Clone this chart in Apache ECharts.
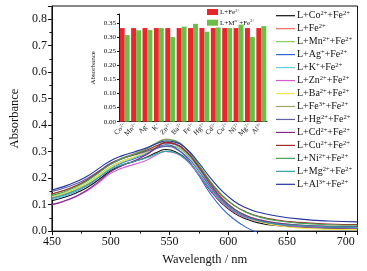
<!DOCTYPE html>
<html>
<head>
<meta charset="utf-8">
<script src="https://cdn.jsdelivr.net/npm/echarts@6/dist/echarts.min.js"></script>
<style>
  html, body { margin: 0; padding: 0; background: #fff; }
  #chart { width: 367px; height: 271px; }
</style>
</head>
<body>
<div id="chart"></div>
<script>
// wavelengths (nm)
const wavelengths = [450, 460, 470, 480, 490, 500, 510, 520, 530, 540, 547, 555, 565, 575, 585, 595, 605, 615, 625, 640, 660, 685, 710];

// absorbance
const coFe  = [.115, .127, .143, .165, .195, .228, .249, .263, .278, .299, .308, .300, .268, .212, .152, .103, .068, .046, .032, .021, .015, .011, .009];
const fe    = [.125, .138, .156, .178, .209, .241, .263, .279, .297, .321, .333, .326, .292, .234, .170, .116, .079, .055, .040, .027, .019, .014, .012];
const mnFe  = [.130, .143, .160, .182, .212, .243, .264, .279, .295, .316, .325, .319, .288, .233, .171, .118, .081, .057, .042, .029, .021, .016, .014];
const agFe  = [.120, .133, .150, .172, .203, .236, .258, .273, .290, .315, .326, .315, .275, .210, .140, .085, .045, .015, -.005, -.03, -.05, -.07, -.08];
const kFe   = [.120, .133, .151, .174, .205, .238, .261, .277, .296, .321, .333, .327, .294, .237, .173, .119, .081, .057, .042, .028, .020, .015, .013];
const znFe  = [.100, .112, .129, .152, .183, .218, .238, .252, .267, .290, .301, .295, .265, .212, .154, .106, .072, .050, .036, .024, .017, .013, .011];
const baFe  = [.130, .142, .158, .180, .210, .241, .263, .280, .298, .324, .338, .336, .308, .252, .186, .127, .084, .055, .037, .022, .012, .007, .005];
const fe3Fe = [.140, .153, .171, .194, .225, .256, .277, .293, .311, .336, .348, .342, .307, .247, .180, .124, .085, .060, .045, .031, .023, .018, .016];
const hgFe  = [.150, .162, .178, .199, .227, .256, .274, .287, .301, .314, .320, .312, .280, .226, .165, .113, .077, .054, .040, .027, .019, .014, .012];
const cdFe  = [.100, .113, .131, .155, .188, .224, .248, .266, .287, .319, .335, .330, .298, .240, .175, .121, .083, .059, .044, .031, .023, .018, .016];
const cuFe  = [.140, .153, .170, .193, .223, .253, .274, .289, .305, .324, .333, .328, .297, .244, .184, .133, .097, .073, .057, .043, .033, .027, .025];
const niFe  = [.135, .148, .166, .189, .220, .252, .274, .290, .309, .334, .345, .340, .307, .250, .187, .135, .097, .071, .055, .040, .030, .024, .022];
const mgFe  = [.125, .137, .153, .174, .203, .233, .251, .263, .276, .293, .301, .296, .267, .216, .158, .110, .076, .054, .040, .028, .021, .016, .014];
const alFe  = [.155, .168, .185, .207, .237, .266, .285, .299, .314, .332, .340, .336, .308, .258, .200, .150, .113, .088, .072, .058, .046, .038, .035];

const curves = [coFe, fe, mnFe, agFe, kFe, znFe, baFe, fe3Fe, hgFe, cdFe, cuFe, niFe, mgFe, alFe];
const curveNames = ['L+Co2++Fe2+', 'L+Fe2+', 'L+Mn2++Fe2+', 'L+Ag++Fe2+', 'L+K++Fe2+', 'L+Zn2++Fe2+', 'L+Ba2++Fe2+',
  'L+Fe3++Fe2+', 'L+Hg2++Fe2+', 'L+Cd2++Fe2+', 'L+Cu2++Fe2+', 'L+Ni2++Fe2+', 'L+Mg2++Fe2+', 'L+Al3++Fe2+'];
const curveLabels = ['L+Co{s|2+}+Fe{s|2+}', 'L+Fe{s|2+}', 'L+Mn{s|2+}+Fe{s|2+}', 'L+Ag{s|+}+Fe{s|2+}', 'L+K{s|+}+Fe{s|2+}',
  'L+Zn{s|2+}+Fe{s|2+}', 'L+Ba{s|2+}+Fe{s|2+}', 'L+Fe{s|3+}+Fe{s|2+}', 'L+Hg{s|2+}+Fe{s|2+}', 'L+Cd{s|2+}+Fe{s|2+}',
  'L+Cu{s|2+}+Fe{s|2+}', 'L+Ni{s|2+}+Fe{s|2+}', 'L+Mg{s|2+}+Fe{s|2+}', 'L+Al{s|3+}+Fe{s|2+}'];
const curveColors = ['#111111', '#f06a62', '#86cf5e', '#3563d1', '#66cbe3', '#d45bd2', '#ece64a', '#a3a36a',
  '#5f5fa6', '#86288a', '#a52a2a', '#45a558', '#34a3a3', '#2433a3'];

// inset bar chart
const ions = ['Co{s|2+}', 'Mn{s|2+}', 'Ag{s|+}', 'K{s|+}', 'Zn{s|2+}', 'Ba{s|2+}', 'Fe{s|3+}', 'Hg{s|2+}', 'Cd{s|2+}', 'Cu{s|2+}', 'Ni{s|2+}', 'Mg{s|2+}', 'Al{s|3+}'];
const onlyFe = [.333, .333, .333, .333, .333, .333, .333, .333, .333, .333, .333, .333, .333];
const withM  = [.308, .325, .326, .333, .301, .338, .348, .320, .335, .333, .345, .301, .340];

const serif = "'Liberation Serif', 'DejaVu Serif', serif";
// small raised text for ion charges
const sup = (size, line) => ({ fontSize: size, lineHeight: line, verticalAlign: 'top', fontFamily: serif, color: '#111' });

const series = curves.map((vals, i) => ({
  name: curveNames[i],
  type: 'line',
  smooth: true,
  symbol: 'none',
  clip: true,
  lineStyle: { width: 1.1, color: curveColors[i] },
  itemStyle: { color: curveColors[i] },
  data: wavelengths.map((w, j) => [w, vals[j]])
}));
series.push({
  name: 'L+Fe', type: 'bar', xAxisIndex: 1, yAxisIndex: 1,
  barGap: 0, barCategoryGap: '13%',
  itemStyle: { color: '#e8262b' }, data: onlyFe
});
series.push({
  name: 'L+M', type: 'bar', xAxisIndex: 1, yAxisIndex: 1,
  barGap: 0, barCategoryGap: '13%',
  itemStyle: { color: '#6cbf45' }, data: withM
});

const chart = echarts.init(document.getElementById('chart'));
chart.setOption({
  animation: false,
  backgroundColor: '#fff',
  grid: [
    { left: 42, right: 9.5, top: 6, bottom: 34.7, show: true, borderColor: '#111', borderWidth: 1, backgroundColor: 'transparent' },
    { left: 119, width: 148, top: 14, bottom: 149.3 }
  ],
  legend: [
    {
      data: curveNames, z: 10, padding: 0,
      orient: 'vertical', left: 276, top: 10.2,
      itemWidth: 19, itemHeight: 10, itemGap: 1.97,
      icon: 'path://M0,4.4H19V5.6H0Z',
      formatter: (name) => curveLabels[curveNames.indexOf(name)],
      textStyle: { fontSize: 10, lineHeight: 11, fontFamily: serif, color: '#111', padding: [0, 0, 0, -3], rich: { s: sup(6.5, 7) } }
    },
    {
      data: ['L+Fe', 'L+M'], z: 10, padding: 0,
      orient: 'vertical', left: 207, top: 8,
      itemWidth: 11, itemHeight: 6, itemGap: 2.7,
      icon: 'rect',
      formatter: (name) => name === 'L+Fe' ? 'L+Fe{s|2+}' : 'L+M{s|n+}+Fe{s|2+}',
      textStyle: { fontSize: 7, lineHeight: 8, fontFamily: serif, color: '#111', padding: [0, 0, 0, -3], rich: { s: sup(4.5, 5) } }
    }
  ],
  xAxis: [
    {
      type: 'value', min: 450, max: 710, interval: 50,
      name: 'Wavelength / nm', nameLocation: 'middle', nameGap: 16,
      nameTextStyle: { fontSize: 12.5, fontFamily: serif, color: '#111' },
      axisLine: { lineStyle: { color: '#111' } },
      axisTick: { length: 4, lineStyle: { color: '#111' } },
      minorTick: { show: true, splitNumber: 2, length: 2.5, lineStyle: { color: '#111' } },
      axisLabel: { fontSize: 12, fontFamily: serif, color: '#111', margin: 5 },
      splitLine: { show: false }
    },
    {
      type: 'category', gridIndex: 1, data: ions,
      axisLine: { lineStyle: { color: '#111' } },
      axisTick: { show: false },
      axisLabel: {
        interval: 0, rotate: 45, fontSize: 7, lineHeight: 8, fontFamily: serif, color: '#111', margin: 3,
        rich: { s: sup(4.5, 5) }
      }
    }
  ],
  yAxis: [
    {
      type: 'value', min: 0, max: 0.85, interval: 0.1,
      name: 'Absorbance', nameLocation: 'middle', nameGap: 24,
      nameTextStyle: { fontSize: 12.5, fontFamily: serif, color: '#111' },
      axisLine: { show: true, lineStyle: { color: '#111' } },
      axisTick: { show: true, length: 4, lineStyle: { color: '#111' } },
      minorTick: { show: true, splitNumber: 2, length: 2.5, lineStyle: { color: '#111' } },
      axisLabel: {
        fontSize: 12, fontFamily: serif, color: '#111', margin: 5,
        formatter: (v) => Math.abs(v * 10 - Math.round(v * 10)) < 1e-6 ? v.toFixed(1) : ''
      },
      splitLine: { show: false }
    },
    {
      type: 'value', gridIndex: 1, min: 0, max: 0.383, interval: 0.05,
      name: 'Absorbance', nameLocation: 'middle', nameGap: 22,
      nameTextStyle: { fontSize: 7, fontFamily: serif, color: '#111' },
      axisLine: { show: true, lineStyle: { color: '#111' } },
      axisTick: { show: true, length: 2, lineStyle: { color: '#111' } },
      axisLabel: {
        fontSize: 7, fontFamily: serif, color: '#111', margin: 3,
        formatter: (v) => Math.abs(v * 20 - Math.round(v * 20)) < 1e-6 ? v.toFixed(2) : ''
      },
      splitLine: { show: false }
    }
  ],
  series: series
});
</script>
</body>
</html>
